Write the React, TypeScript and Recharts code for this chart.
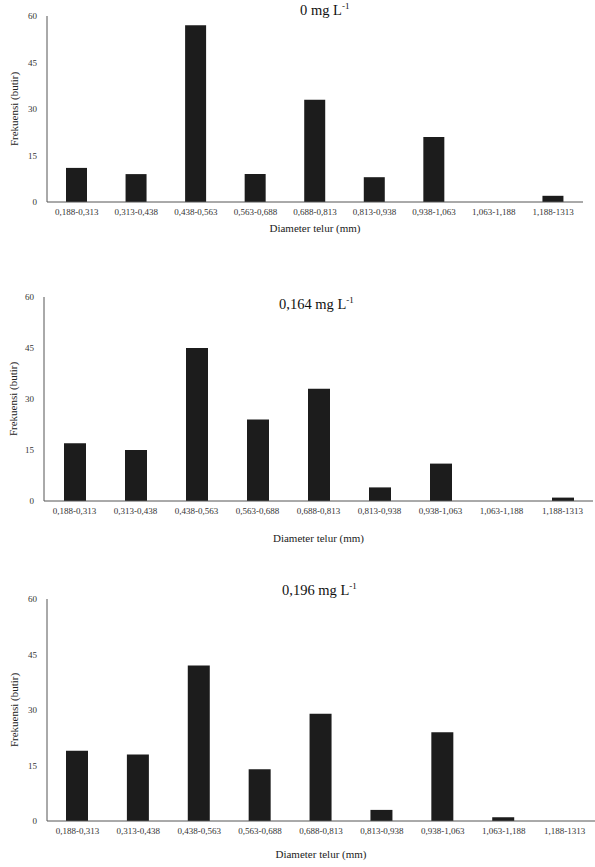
import React from 'react';
import { BarChart, Bar, XAxis, YAxis } from 'recharts';

const categories = [
  '0,188-0,313',
  '0,313-0,438',
  '0,438-0,563',
  '0,563-0,688',
  '0,688-0,813',
  '0,813-0,938',
  '0,938-1,063',
  '1,063-1,188',
  '1,188-1313',
];

// frekuensi telur per kelas diameter
const freq0 = [11, 9, 57, 9, 33, 8, 21, 0, 2];
const freq164 = [17, 15, 45, 24, 33, 4, 11, 0, 1];
const freq196 = [19, 18, 42, 14, 29, 3, 24, 1, 0];

const yTicks = [0, 15, 30, 45, 60];

const FONT = '"Liberation Serif", "DejaVu Serif", serif';
const BAR = '#1c1c1c';
const AXIS = '#555555';

interface PanelProps {
  top: number;
  height: number;
  values: number[];
  dose: string;
  titleLeft: number;
  titleTop: number;
  margin: { top: number; right: number; left: number; bottom: number };
  yWidth: number;
  xHeight: number;
  barSize: number;
  labelOffset: number;
}

const Panel: React.FC<PanelProps> = ({
  top, height, values, dose, titleLeft, titleTop, margin, yWidth, xHeight, barSize, labelOffset,
}) => {
  const data = categories.map((name, i) => ({ name, value: values[i] }));
  return (
    <div style={{ position: 'absolute', left: 0, top, width: 595, height, fontFamily: FONT }}>
      <BarChart
        width={595}
        height={height}
        data={data}
        margin={margin}
        barCategoryGap={0}
        style={{ fontFamily: FONT }}
      >
        <XAxis
          dataKey="name"
          height={xHeight}
          interval={0}
          tickLine={false}
          stroke={AXIS}
          tick={{ fontSize: 9, fill: '#333', fontFamily: FONT }}
          tickMargin={1}
          label={{
            value: 'Diameter telur (mm)',
            position: 'insideBottom',
            offset: labelOffset,
            fontSize: 11,
            fill: '#222',
            fontFamily: FONT,
          }}
        />
        <YAxis
          width={yWidth}
          domain={[0, 60]}
          ticks={yTicks}
          interval={0}
          tickLine={false}
          stroke={AXIS}
          tickMargin={4}
          tick={{ fontSize: 9, fill: '#333', fontFamily: FONT }}
          label={{
            value: 'Frekuensi (butir)',
            angle: -90,
            position: 'center',
            dx: -9,
            fontSize: 11,
            fill: '#222',
            fontFamily: FONT,
          }}
        />
        <Bar dataKey="value" fill={BAR} barSize={barSize} isAnimationActive={false} />
      </BarChart>
      <div
        style={{
          position: 'absolute',
          left: titleLeft,
          top: titleTop,
          fontFamily: FONT,
          fontSize: 14.5,
          fontWeight: 'normal',
          color: '#111',
          whiteSpace: 'nowrap',
          lineHeight: 1,
        }}
      >
        {dose} mg L<sup style={{ fontSize: 9, lineHeight: 0 }}>-1</sup>
      </div>
    </div>
  );
};

export default function App() {
  return (
    <div style={{ position: 'absolute', left: 0, top: 0, width: 595, height: 867, background: '#fff' }}>
      <Panel
        top={0}
        height={240}
        values={freq0}
        dose="0"
        titleLeft={300}
        titleTop={3}
        margin={{ top: 16, right: 12, left: 0, bottom: 0 }}
        yWidth={47}
        xHeight={38}
        barSize={21}
        labelOffset={8}
      />
      <Panel
        top={280}
        height={270}
        values={freq164}
        dose="0,164"
        titleLeft={279}
        titleTop={17}
        margin={{ top: 17, right: 2, left: 0, bottom: 0 }}
        yWidth={44}
        xHeight={49}
        barSize={22}
        labelOffset={8}
      />
      <Panel
        top={580}
        height={287}
        values={freq196}
        dose="0,196"
        titleLeft={282}
        titleTop={3}
        margin={{ top: 19, right: 0, left: 0, bottom: 0 }}
        yWidth={47}
        xHeight={46}
        barSize={22}
        labelOffset={9}
      />
    </div>
  );
}
